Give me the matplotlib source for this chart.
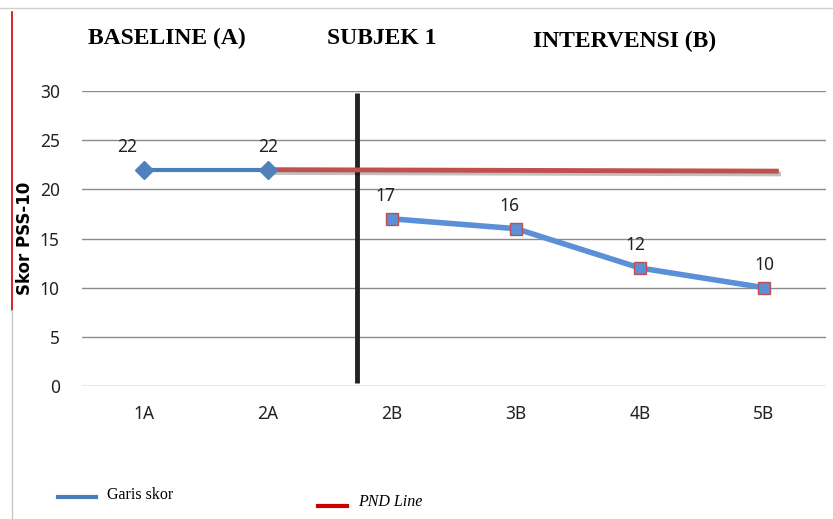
import matplotlib
matplotlib.use("Agg")
import matplotlib.pyplot as plt
import matplotlib.patheffects as pe
from matplotlib.lines import Line2D

categories = ["1A", "2A", "2B", "3B", "4B", "5B"]
baseline_x = [0, 1]
baseline_y = [22, 22]
interv_x = [2, 3, 4, 5]
interv_y = [17, 16, 12, 10]
pnd_x = [1, 5.1]
pnd_y = [22, 21.85]
phase_x = 1.72
yticks = [0, 5, 10, 15, 20, 25, 30]

W, H = 833, 519
fig = plt.figure(figsize=(W / 100, H / 100), dpi=100)

# spreadsheet decoration around the chart
fig.add_artist(Line2D([0, 1], [1 - 8 / H, 1 - 8 / H], color="#d0d0d0", lw=1))
fig.add_artist(Line2D([12 / W, 12 / W], [1 - 12 / H, 1 - 310 / H], color="#cc0000", lw=1.2))
fig.add_artist(Line2D([12 / W, 12 / W], [0, 1 - 310 / H], color="#c8c8c8", lw=1))

ax = fig.add_axes([82 / W, 133 / H, 744 / W, 295 / H])
ax.set_xlim(-0.5, 5.5)
ax.set_ylim(0, 30)
for s in ax.spines.values():
    s.set_visible(False)
ax.set_yticks(yticks)
ax.set_xticks(range(len(categories)))
ax.set_xticklabels(categories)
ax.tick_params(length=0, labelsize=12.5, colors="#222222")
ax.tick_params(axis="x", pad=14)
ax.tick_params(axis="y", pad=16)
for lab in ax.get_xticklabels() + ax.get_yticklabels():
    lab.set_fontfamily("Noto Sans")
ax.grid(axis="y", color="#8c8c8c", lw=1)
ax.set_axisbelow(True)
ax.set_ylabel("Skor PSS-10", fontsize=12, fontweight="bold", family="DejaVu Sans")
ax.yaxis.set_label_coords(-0.064, 0.5)

# phase change line
ax.plot([phase_x, phase_x], [0.3, 29.8], color="#222222", lw=3.5, solid_capstyle="butt")

# PND line
ax.plot(pnd_x, pnd_y, color="#c0504d", lw=3.5,
        path_effects=[pe.SimpleLineShadow(offset=(1.5, -2), alpha=0.25), pe.Normal()], zorder=3)

# baseline
ax.plot(baseline_x, baseline_y, color="#4a7ebb", lw=3, marker="D", ms=9,
        mfc="#4f81bd", mec="#4f81bd", zorder=4)
# intervention
ax.plot(interv_x, interv_y, color="#5b8fd8", lw=4, marker="s", ms=8,
        mfc="#5b8fd8", mec="#c0504d", mew=1, zorder=4)

label_dx = [-12, 0, -5, -5, -3, 0]
for x, y, dx in zip(baseline_x + interv_x, baseline_y + interv_y, label_dx):
    ax.annotate(str(y), (x, y), xytext=(dx, 10), textcoords="offset points",
                ha="center", va="bottom", fontsize=12.5, family="Noto Sans", color="#222222")

serif = "Liberation Serif"
fig.text(88 / W, 1 - 38 / H, "BASELINE (A)", family=serif, fontweight="bold", fontsize=17, va="center")
fig.text(327 / W, 1 - 38 / H, "SUBJEK 1", family=serif, fontweight="bold", fontsize=17, va="center")
fig.text(533 / W, 1 - 41 / H, "INTERVENSI (B)", family=serif, fontweight="bold", fontsize=17, va="center")

# legend
fig.add_artist(Line2D([58 / W, 96 / W], [1 - 497 / H] * 2, color="#4a7ebb", lw=3))
fig.text(107 / W, 1 - 495 / H, "Garis skor", family=serif, fontsize=11.5, va="center")
fig.add_artist(Line2D([318 / W, 347 / W], [1 - 506 / H] * 2, color="#cc0000", lw=3))
fig.text(358 / W, 1 - 502 / H, "PND Line", family=serif, style="italic", fontsize=11.5, va="center")

fig.savefig("out.png", dpi=100)
